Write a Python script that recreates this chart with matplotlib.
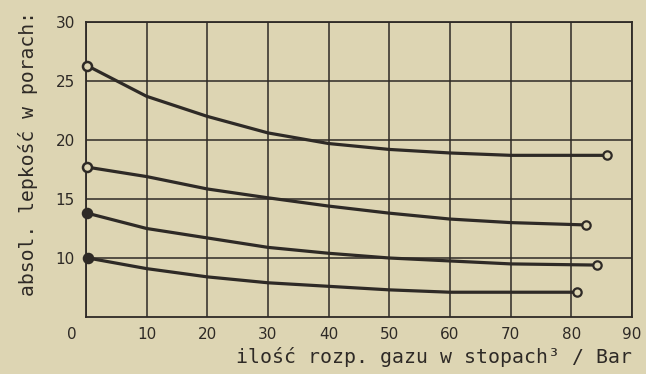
import numpy as np
import matplotlib.pyplot as plt
from matplotlib.transforms import ScaledTranslation

# krzywe lepkosci, x = ilosc rozp. gazu
x1 = [0.2, 10, 20, 30, 40, 50, 60, 70, 80, 85.8]
y1 = [26.3, 23.7, 22.0, 20.6, 19.7, 19.2, 18.9, 18.7, 18.7, 18.7]

x2 = [0.2, 10, 20, 30, 40, 50, 60, 70, 82.5]
y2 = [17.7, 16.9, 15.85, 15.1, 14.4, 13.8, 13.3, 13.0, 12.8]

x3 = [0.2, 10, 20, 30, 40, 50, 60, 70, 84.3]
y3 = [13.8, 12.5, 11.7, 10.9, 10.4, 10.0, 9.75, 9.5, 9.4]

x4 = [0.3, 10, 20, 30, 40, 50, 60, 70, 81]
y4 = [10.0, 9.1, 8.4, 7.9, 7.6, 7.3, 7.1, 7.1, 7.1]

xticks = [0, 10, 20, 30, 40, 50, 60, 70, 80, 90]
yticks = [10, 15, 20, 25, 30]

paper = '#ddd5b3'
ink = '#2e2a26'

fig = plt.figure(figsize=(6.46, 3.74), dpi=100, facecolor=paper)
ax = fig.add_axes([0.1331, 0.1524, 0.8452, 0.7888], facecolor=paper)

ax.set_xlim(0, 90)
ax.set_ylim(5, 30)
ax.set_xticks(xticks)
ax.set_yticks(yticks)
ax.grid(True, color=ink, lw=1.1)
for s in ax.spines.values():
    s.set_color(ink)
    s.set_linewidth(1.3)
ax.tick_params(length=0, colors=ink, labelsize=11)
ax.tick_params(axis='x', pad=7)
ax.tick_params(axis='y', pad=8)

# zero przesuniete w lewo, pod naroznik
lab0 = ax.get_xticklabels()[0]
lab0.set_transform(lab0.get_transform() + ScaledTranslation(-0.14, 0, fig.dpi_scale_trans))

series = [(x1, y1, False), (x2, y2, False), (x3, y3, True), (x4, y4, True)]
for xs, ys, filled_start in series:
    ax.plot(xs, ys, color=ink, lw=2.3, solid_capstyle='round', zorder=3)
    ax.plot(xs[-1], ys[-1], 'o', ms=6, mfc=paper, mec=ink, mew=1.6, zorder=4)
    ax.plot(xs[0], ys[0], 'o', ms=6.5, mfc=ink if filled_start else paper,
            mec=ink, mew=1.8, zorder=4, clip_on=False)

ax.set_xlabel('ilość rozp. gazu w stopach³ / Bar', loc='right', labelpad=4,
              family='DejaVu Sans Mono', fontsize=14.3, color=ink)
fig.text(28 / 646, 1 - 153 / 374, 'absol. lepkość w porach:', rotation=90,
         ha='center', va='center', family='DejaVu Sans Mono', fontsize=14.2,
         color=ink)

fig.savefig('out.png', dpi=100, facecolor=paper)
